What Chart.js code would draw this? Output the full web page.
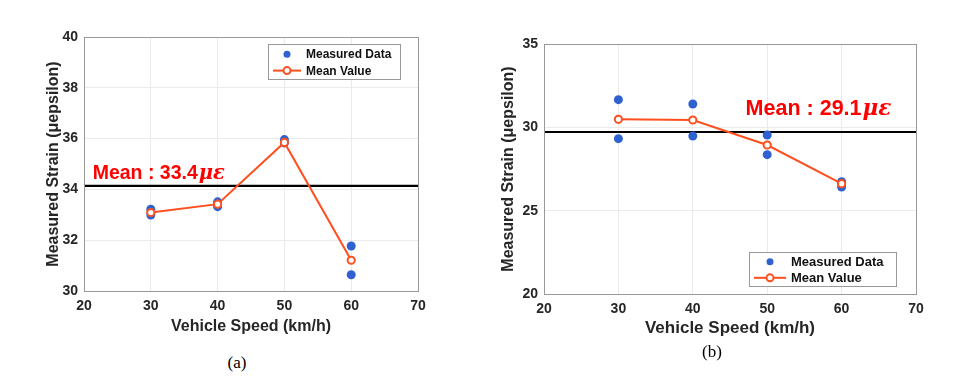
<!DOCTYPE html>
<html>
<head>
<meta charset="utf-8">
<script src="https://cdn.jsdelivr.net/npm/chart.js@4.4.0/dist/chart.umd.min.js"></script>
<style>
  html, body { margin: 0; padding: 0; background: #fff; }
  body { width: 975px; height: 384px; position: relative; overflow: hidden; }
  .panel { position: absolute; top: 0; }
  #wrapA { left: 0; width: 487px; height: 345px; }
  #wrapB { left: 487px; width: 488px; height: 345px; }
  .caption { position: absolute; font-family: "Liberation Serif", serif; font-size: 17px; color: #000; transform: translateX(-50%); }
</style>
</head>
<body>
<div class="panel" id="wrapA"><canvas id="chartA"></canvas></div>
<div class="panel" id="wrapB"><canvas id="chartB"></canvas></div>
<div class="caption" style="left:237px; top:353px;">(a)</div>
<div class="caption" style="left:712px; top:342px;">(b)</div>
<script>
// speeds (km/h)
const speeds = [30, 40, 50, 60];
const xTicks = [20, 30, 40, 50, 60, 70];

// panel (a)
const measuredA1 = [33.22, 33.51, 35.96, 31.77];
const measuredA2 = [32.99, 33.32, 35.83, 30.64];
const meanA = [33.09, 33.42, 35.85, 31.21];
const meanLineA = 34.14;
const meanTextA = '33.4';
const yTicksA = [30, 32, 34, 36, 38, 40];

// panel (b)
const measuredB1 = [31.66, 31.40, 29.54, 26.74];
const measuredB2 = [29.32, 29.48, 28.36, 26.42];
const meanB = [30.48, 30.44, 28.94, 26.62];
const meanLineB = 29.72;
const meanTextB = '29.1';
const yTicksB = [20, 25, 30, 35];

const BLUE = '#2f62d0';
const ORANGE = '#ff4f1f';
const TEXT = '#262626';
const FONT = '"Liberation Sans", Arial, sans-serif';

function pts(ys) {
    return speeds.map((x, i) => ({ x: x, y: ys[i] }));
}

// frame, mean label and legend box
const decorPlugin = {
    id: 'decor',
    afterDatasetsDraw(chart, args, opts) {
        const ctx = chart.ctx;
        const a = chart.chartArea;
        const xs = chart.scales.x;
        const ys = chart.scales.y;
        ctx.save();
        ctx.strokeStyle = '#999';
        ctx.lineWidth = 1;
        ctx.strokeRect(Math.round(a.left) + 0.5, Math.round(a.top) + 0.5,
            Math.round(a.right - a.left), Math.round(a.bottom - a.top));

        // mean label
        const lx = xs.getPixelForValue(opts.label.x);
        const ly = ys.getPixelForValue(opts.label.y);
        ctx.fillStyle = '#ff0000';
        ctx.textBaseline = 'alphabetic';
        ctx.textAlign = 'left';
        ctx.font = 'bold ' + opts.label.size + 'px ' + FONT;
        const t1 = 'Mean : ' + opts.label.text;
        ctx.fillText(t1, lx, ly);
        const w1 = ctx.measureText(t1).width;
        ctx.font = 'italic bold ' + opts.label.size + 'px "DejaVu Serif", serif';
        ctx.fillText('\u03bc\u03b5', lx + w1 + 1, ly);

        // legend
        const L = opts.legend;
        ctx.fillStyle = '#fff';
        ctx.fillRect(L.x, L.y, L.w, L.h);
        ctx.strokeStyle = '#999';
        ctx.strokeRect(L.x + 0.5, L.y + 0.5, L.w, L.h);
        const r1 = L.y + L.h * 0.29;
        const r2 = L.y + L.h * 0.76;
        const mx = L.x + L.mark;
        ctx.fillStyle = BLUE;
        ctx.beginPath();
        ctx.arc(mx, r1, 3.5, 0, Math.PI * 2);
        ctx.fill();
        ctx.strokeStyle = ORANGE;
        ctx.lineWidth = 2;
        ctx.beginPath();
        ctx.moveTo(L.x + 5, r2);
        ctx.lineTo(L.x + 2 * L.mark - 5, r2);
        ctx.stroke();
        ctx.fillStyle = '#fff';
        ctx.beginPath();
        ctx.arc(mx, r2, 3.5, 0, Math.PI * 2);
        ctx.fill();
        ctx.stroke();
        ctx.fillStyle = '#111';
        ctx.font = 'bold ' + L.size + 'px ' + FONT;
        ctx.textBaseline = 'middle';
        ctx.fillText('Measured Data', L.x + L.text, r1 + 1);
        ctx.fillText('Mean Value', L.x + L.text, r2 + 1);
        ctx.restore();
    }
};

function makeChart(id, cfg) {
    const ctx = document.getElementById(id).getContext('2d');
    return new Chart(ctx, {
        type: 'scatter',
        data: {
            datasets: [
                {
                    label: 'Mean line',
                    data: [{ x: 20, y: cfg.meanLine }, { x: 70, y: cfg.meanLine }],
                    showLine: true,
                    borderColor: '#000',
                    borderWidth: 2.2,
                    pointRadius: 0,
                    order: 3
                },
                {
                    label: 'Measured Data',
                    data: pts(cfg.m1).concat(pts(cfg.m2)),
                    backgroundColor: BLUE,
                    borderColor: BLUE,
                    pointRadius: 4.5,
                    borderWidth: 0,
                    order: 2
                },
                {
                    label: 'Mean Value',
                    data: pts(cfg.mean),
                    showLine: true,
                    borderColor: ORANGE,
                    backgroundColor: '#fff',
                    borderWidth: 2,
                    pointRadius: 3.6,
                    pointBorderWidth: 2,
                    pointBackgroundColor: '#fff',
                    pointBorderColor: ORANGE,
                    order: 1
                }
            ]
        },
        options: {
            responsive: true,
            maintainAspectRatio: false,
            animation: false,
            layout: { padding: cfg.padding },
            plugins: {
                legend: { display: false },
                tooltip: { enabled: false },
                decor: { label: cfg.label, legend: cfg.legend }
            },
            scales: {
                x: {
                    type: 'linear',
                    min: 20,
                    max: 70,
                    afterBuildTicks: s => { s.ticks = xTicks.map(v => ({ value: v })); },
                    afterFit: s => { s.height = cfg.xHeight; },
                    grid: { color: '#ebebeb', drawTicks: false },
                    border: { display: false },
                    ticks: { padding: 7, color: TEXT, font: { family: FONT, size: 14, weight: 'bold' } },
                    title: {
                        display: true,
                        text: 'Vehicle Speed (km/h)',
                        color: TEXT,
                        padding: { top: 0, bottom: cfg.xTitlePad },
                        font: { family: FONT, size: cfg.xTitleSize, weight: 'bold' }
                    }
                },
                y: {
                    type: 'linear',
                    min: cfg.yTicks[0],
                    max: cfg.yTicks[cfg.yTicks.length - 1],
                    afterBuildTicks: s => { s.ticks = cfg.yTicks.map(v => ({ value: v })); },
                    afterFit: s => { s.width = cfg.yWidth; },
                    grid: { color: '#ebebeb', drawTicks: false },
                    border: { display: false },
                    ticks: { padding: 6, color: TEXT, font: { family: FONT, size: 14, weight: 'bold' } },
                    title: {
                        display: true,
                        text: 'Measured Strain (\u03bcepsilon)',
                        color: TEXT,
                        padding: { top: 4, bottom: 0 },
                        font: { family: FONT, size: 16, weight: 'bold' }
                    }
                }
            }
        },
        plugins: [decorPlugin]
    });
}

makeChart('chartA', {
    m1: measuredA1, m2: measuredA2, mean: meanA, meanLine: meanLineA, yTicks: yTicksA,
    padding: { left: 40, right: 69, top: 37, bottom: 0 },
    yWidth: 44, xHeight: 54, xTitlePad: 9, xTitleSize: 16,
    label: { x: 21.3, y: meanLineA + 0.28, text: meanTextA, size: 19.5 },
    legend: { x: 268, y: 44, w: 132, h: 35, mark: 19, text: 38, size: 12 }
});

makeChart('chartB', {
    m1: measuredB1, m2: measuredB2, mean: meanB, meanLine: meanLineB, yTicks: yTicksB,
    padding: { left: 8, right: 59, top: 44, bottom: 0 },
    yWidth: 49, xHeight: 51, xTitlePad: 6, xTitleSize: 17,
    label: { x: 47.1, y: meanLineB + 1.02, text: meanTextB, size: 21.5 },
    legend: { x: 262, y: 252, w: 147, h: 34, mark: 21, text: 42, size: 13 }
});
</script>
</body>
</html>
